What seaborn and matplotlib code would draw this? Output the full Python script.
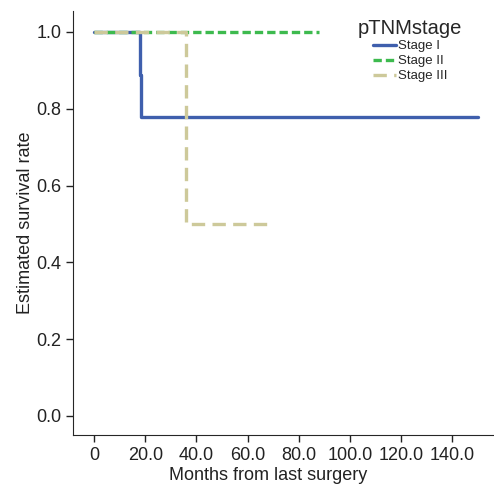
import matplotlib
matplotlib.use("Agg")
import matplotlib.pyplot as plt
import seaborn as sns
import pandas as pd

# Kaplan-Meier step points
stage1_time = [0, 17.8, 18.4, 150]
stage1_surv = [1.0, 0.889, 0.778, 0.778]
stage2_time = [0, 88]
stage2_surv = [1.0, 1.0]
stage3_time = [0, 36, 68]
stage3_surv = [1.0, 0.5, 0.5]

stages = ["Stage I", "Stage II", "Stage III"]
x_ticks = [0, 20, 40, 60, 80, 100, 120, 140]
x_labels = ["0", "20.0", "40.0", "60.0", "80.0", "100.0", "120.0", "140.0"]
y_ticks = [0.0, 0.2, 0.4, 0.6, 0.8, 1.0]

df = pd.concat([
    pd.DataFrame({"time": stage1_time, "surv": stage1_surv, "stage": stages[0]}),
    pd.DataFrame({"time": stage2_time, "surv": stage2_surv, "stage": stages[1]}),
    pd.DataFrame({"time": stage3_time, "surv": stage3_surv, "stage": stages[2]}),
])

sns.set_style("ticks")
plt.rcParams["font.family"] = ["Liberation Sans", "DejaVu Sans"]

colors = {"Stage I": "#3f5fad", "Stage II": "#3dba4e", "Stage III": "#cdc99a"}
dashes = {"Stage I": "", "Stage II": (2.5, 1.2), "Stage III": (4, 2.2)}

fig = plt.figure(figsize=(4.94, 4.90), dpi=100)
ax = fig.add_axes([0.148, 0.112, 0.85, 0.866])

sns.lineplot(data=df, x="time", y="surv", hue="stage", style="stage",
             palette=colors, dashes=dashes, estimator=None, sort=False,
             drawstyle="steps-post", linewidth=2.4, ax=ax)

ax.set_xlim(-8.2, 156)
ax.set_ylim(-0.05, 1.055)
ax.set_xticks(x_ticks)
ax.set_xticklabels(x_labels)
ax.set_yticks(y_ticks)
ax.set_yticklabels([f"{v:.1f}" for v in y_ticks])
ax.tick_params(labelsize=13, length=5, width=1, colors="#222222")
ax.set_xlabel("Months from last surgery", fontsize=13, color="#222222")
ax.set_ylabel("Estimated survival rate", fontsize=13, color="#222222")
ax.xaxis.set_label_coords(0.465, -0.075)
ax.yaxis.set_label_coords(-0.092, 0.5)
sns.despine(ax=ax)

leg = ax.legend(title="pTNMstage", loc="upper center",
                bbox_to_anchor=(410 / 494, 1 - 12 / 490),
                bbox_transform=fig.transFigure,
                frameon=False, fontsize=9.5, title_fontsize=14.5,
                handlelength=1.8, handletextpad=0.1, labelspacing=0.2,
                borderpad=0)

fig.savefig("out.png", dpi=100)
